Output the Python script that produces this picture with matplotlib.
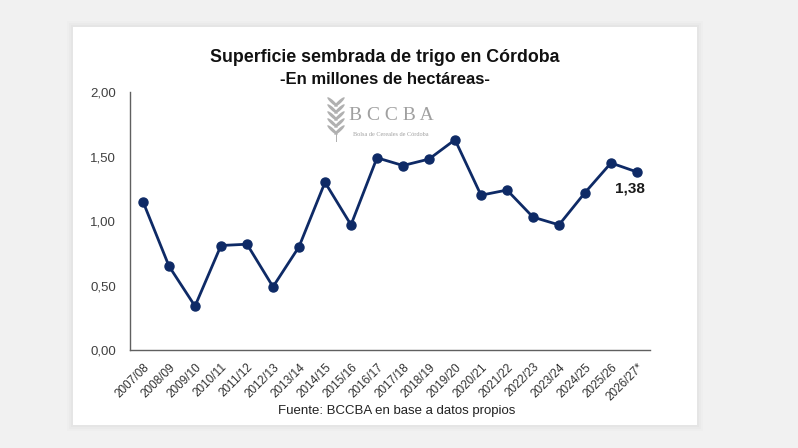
import matplotlib.pyplot as plt
from matplotlib.patches import Rectangle, Ellipse

campanas = ['2007/08', '2008/09', '2009/10', '2010/11', '2011/12', '2012/13',
            '2013/14', '2014/15', '2015/16', '2016/17', '2017/18', '2018/19',
            '2019/20', '2020/21', '2021/22', '2022/23', '2023/24', '2024/25',
            '2025/26', '2026/27*']
superficie = [1.15, 0.65, 0.34, 0.81, 0.82, 0.49, 0.80, 1.30, 0.97, 1.49,
              1.43, 1.48, 1.63, 1.20, 1.24, 1.03, 0.97, 1.22, 1.45, 1.38]
yticks = [0.0, 0.5, 1.0, 1.5, 2.0]

azul = '#0e2a66'
W, H = 798, 448

plt.rcParams['font.family'] = ['Liberation Sans', 'DejaVu Sans']
fig = plt.figure(figsize=(W / 100, H / 100), dpi=100, facecolor='#f1f1f1')

# panel blanco con sombra suave
for i, a in enumerate([0.012, 0.015, 0.02]):
    d = 6 - 2 * i
    fig.patches.append(Rectangle(((73 - d) / W, 1 - (425 + d) / H),
                                 (624 + 2 * d) / W, (398 + 2 * d) / H,
                                 transform=fig.transFigure, facecolor='black',
                                 alpha=a, edgecolor='none', zorder=-2))
fig.patches.append(Rectangle((73 / W, 1 - 425 / H), 624 / W, 398 / H,
                             transform=fig.transFigure, facecolor='white',
                             edgecolor='none', zorder=-1))

ax = fig.add_axes([130 / W, 1 - 350 / H, 520 / W, 258 / H])
ax.set_zorder(2)
ax.set_facecolor('none')
x = range(len(campanas))
ax.plot(x, superficie, color=azul, lw=2.0, marker='o', ms=6.5, zorder=3)
ax.set_xlim(-0.5, len(campanas) - 0.5)
ax.set_ylim(0, 2)
ax.set_yticks(yticks)
ax.set_yticklabels([f'{v:.2f}'.replace('.', ',') for v in yticks],
                   fontsize=9.5, color='#404040')
ax.set_xticks(list(x))
ax.set_xticklabels(campanas, rotation=45, ha='right', rotation_mode='anchor',
                   fontsize=8.5, color='#303030')
ax.tick_params(axis='y', length=0, pad=10)
ax.tick_params(axis='x', length=0, pad=8)
for s in ['top', 'right']:
    ax.spines[s].set_visible(False)
for s in ['left', 'bottom']:
    ax.spines[s].set_color('#606060')
    ax.spines[s].set_linewidth(1.0)

ax.annotate(f'{superficie[-1]:.2f}'.replace('.', ','),
            (len(campanas) - 1, superficie[-1]), xytext=(-5, -12),
            textcoords='offset points', ha='center', va='center',
            fontsize=11, fontweight='bold', color='#1a1a1a')

fig.text(385 / W, 1 - 58 / H, 'Superficie sembrada de trigo en Córdoba',
         ha='center', va='center', fontsize=12.8, fontweight='bold', color='#111111')
fig.text(385 / W, 1 - 80 / H, '-En millones de hectáreas-',
         ha='center', va='center', fontsize=12, fontweight='bold', color='#111111')
fig.text(397 / W, 1 - 411 / H, 'Fuente: BCCBA en base a datos propios',
         ha='center', va='center', fontsize=9.5, color='#222222')

# logo
fig.text(391 / W, 1 - 115 / H, 'B C C B A', ha='center', va='center',
         fontsize=14, family='Liberation Serif', color='#a0a0a0')
fig.text(391 / W, 1 - 134 / H, 'Bolsa de Cereales de Córdoba', ha='center',
         va='center', fontsize=4.5, family='Liberation Serif', color='#a0a0a0')
for k in range(5):
    yy = 1 - (102 + k * 7) / H
    for sgn in (-1, 1):
        fig.patches.append(Ellipse(((336 + sgn * 3.5) / W, yy), 4 / W, 11 / H,
                                   angle=-sgn * 30, transform=fig.transFigure,
                                   facecolor='#b0b0b0', edgecolor='none'))
fig.patches.append(Rectangle((335.5 / W, 1 - 142 / H), 1.2 / W, 10 / H,
                             transform=fig.transFigure, facecolor='#b0b0b0',
                             edgecolor='none'))

fig.savefig('out.png', dpi=100, facecolor=fig.get_facecolor())
